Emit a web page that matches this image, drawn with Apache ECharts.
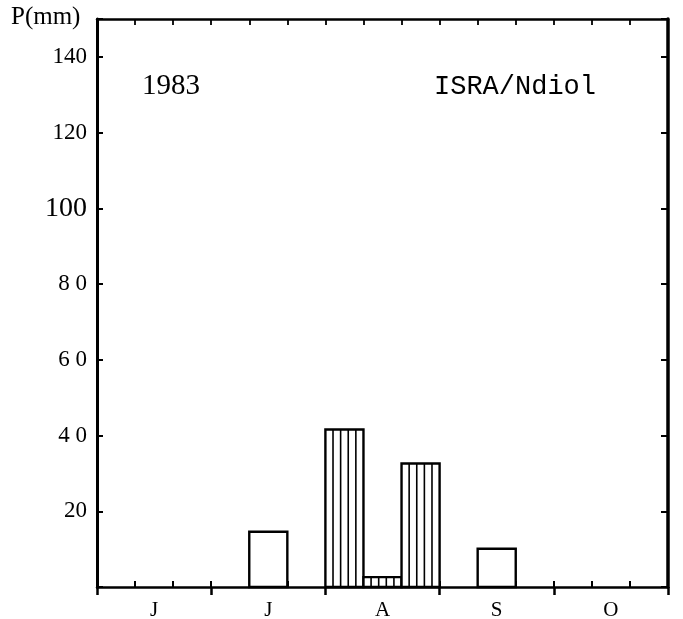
<!DOCTYPE html>
<html>
<head>
<meta charset="utf-8">
<script src="https://cdn.jsdelivr.net/npm/echarts@6/dist/echarts.min.js"></script>
<style>
  html, body { margin: 0; padding: 0; background: #fff; }
  #chart { width: 683px; height: 619px; }
</style>
</head>
<body>
<div id="chart"></div>
<script>
// Ten-day periods (décades), June to October 1983
const decades = ['J1','J2','J3','Jl1','Jl2','Jl3','A1','A2','A3','S1','S2','S3','O1','O2','O3'];
const months = ['J', 'J', 'A', 'S', 'O'];
// Rainfall per décade (mm)
const rainfall = [0, 0, 0, 0, 14.6, 0, 41.6, 2.6, 32.6, 0, 10.1, 0, 0, 0, 0];
// 1 = hatched bar (vertical lines)
const hatched = [0, 0, 0, 0, 0, 0, 1, 1, 1, 0, 0, 0, 0, 0, 0];
const yTickValues = [20, 40, 60, 80, 100, 120, 140];
const yTickLabels = ['20', '4 0', '6 0', '8 0', '100', '120', '140'];
const yMax = 150;
const yInterval = 20;
const titleLeft = '1983';
const titleRight = 'ISRA/Ndiol';
const yName = 'P(mm)';

const SERIF = '"Liberation Serif", "DejaVu Serif", serif';
const MONO = '"Liberation Mono", "DejaVu Sans Mono", monospace';

const chart = echarts.init(document.getElementById('chart'), null, { renderer: 'canvas' });

const data = decades.map((d, i) => [i, rainfall[i], hatched[i]]);

function renderItem(params, api) {
  const v = api.value(1);
  if (!v) return null;
  const i = api.value(0);
  const top = api.coord([i, v]);
  const base = api.coord([i, 0]);
  const w = api.size([1, 0])[0];
  const left = top[0] - w / 2;
  const children = [{
    type: 'rect',
    shape: { x: left, y: top[1], width: w, height: base[1] - top[1] },
    style: { fill: '#fff', stroke: '#000', lineWidth: 2.4 }
  }];
  if (api.value(2)) {
    for (let k = 1; k < 5; k++) {
      const x = left + k * w / 5;
      children.push({
        type: 'line',
        shape: { x1: x, y1: top[1], x2: x, y2: base[1] },
        style: { stroke: '#000', lineWidth: 1.6 }
      });
    }
  }
  return { type: 'group', children };
}

const labelMap = {};
yTickValues.forEach((v, i) => labelMap[v] = yTickLabels[i]);

const option = {
  backgroundColor: '#fff',
  animation: false,
  grid: { left: 97, right: 15, top: 19, bottom: 32, containLabel: false, outerBoundsMode: 'none' },
  xAxis: [
    {
      type: 'category', data: decades, position: 'bottom', boundaryGap: true,
      axisLine: { show: true, lineStyle: { color: '#000', width: 2.5 } },
      axisTick: { show: true, inside: true, length: 6, interval: 0, lineStyle: { color: '#000', width: 2 } },
      axisLabel: { show: false },
      splitLine: { show: false }
    },
    {
      type: 'category', data: months, position: 'bottom', boundaryGap: true,
      axisLine: { show: false },
      axisTick: { show: true, inside: false, length: 8, interval: 0, lineStyle: { color: '#000', width: 2.5 } },
      axisLabel: { show: true, interval: 0, margin: 13, color: '#000', fontSize: 21, fontFamily: SERIF },
      splitLine: { show: false }
    },
    {
      type: 'category', data: decades, position: 'top', boundaryGap: true,
      axisLine: { show: true, lineStyle: { color: '#000', width: 2.5 } },
      axisTick: { show: true, inside: true, length: 6, interval: 0, lineStyle: { color: '#000', width: 1.8 } },
      axisLabel: { show: false },
      splitLine: { show: false }
    }
  ],
  yAxis: [
    {
      type: 'value', min: 0, max: yMax, interval: yInterval, position: 'left',
      axisLine: { show: true, lineStyle: { color: '#000', width: 3 } },
      axisTick: { show: true, inside: true, length: 6, lineStyle: { color: '#000', width: 2 } },
      axisLabel: {
        show: true, margin: 10, color: '#000', fontSize: 23, fontFamily: SERIF,
        formatter: v => {
          const s = labelMap[v];
          if (!s) return '';
          return v === 100 ? '{big|' + s + '}' : s;
        },
        rich: { big: { fontSize: 28, fontFamily: SERIF, color: '#000' } }
      },
      splitLine: { show: false }
    },
    {
      type: 'value', min: 0, max: yMax, interval: yInterval, position: 'right',
      axisLine: { show: true, lineStyle: { color: '#000', width: 3.5 } },
      axisTick: { show: true, inside: true, length: 7, lineStyle: { color: '#000', width: 2 } },
      axisLabel: { show: false },
      splitLine: { show: false }
    }
  ],
  series: [{
    type: 'custom',
    xAxisIndex: 0, yAxisIndex: 0,
    renderItem: renderItem,
    encode: { x: 0, y: 1 },
    data: data,
    z: 3
  }],
  graphic: [
    { type: 'text', left: 11, top: 5, style: { text: yName, font: '25px ' + SERIF, fill: '#000' } },
    { type: 'text', left: 142, top: 72, style: { text: titleLeft, font: '29px ' + SERIF, fill: '#000' } },
    { type: 'text', left: 434, top: 73, style: { text: titleRight, font: '27px ' + MONO, fill: '#000' } }
  ]
};

chart.setOption(option);
</script>
</body>
</html>
